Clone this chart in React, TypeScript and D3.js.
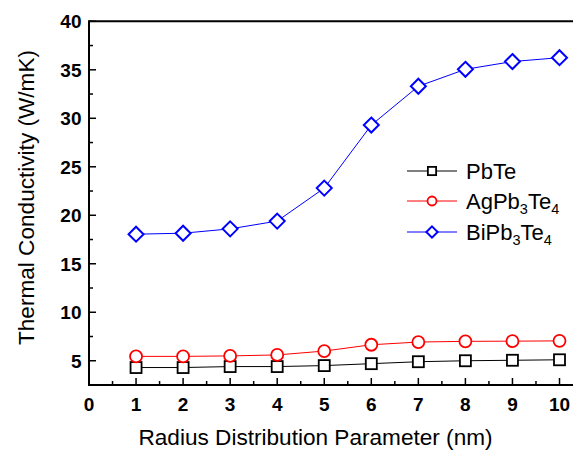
import React from "react";
import * as d3 from "d3";

const xs = [1, 2, 3, 4, 5, 6, 7, 8, 9, 10];
const pbte = [4.3, 4.3, 4.4, 4.4, 4.5, 4.7, 4.9, 5.0, 5.05, 5.1];
const agpb = [5.45, 5.45, 5.5, 5.6, 6.0, 6.65, 6.93, 7.0, 7.02, 7.05];
const bipb = [18.05, 18.15, 18.6, 19.4, 22.8, 29.3, 33.3, 35.05, 35.85, 36.25];
const xTicks = [0, 1, 2, 3, 4, 5, 6, 7, 8, 9, 10];
const yTicks = [5, 10, 15, 20, 25, 30, 35, 40];

const W = 573, H = 450;
const x = d3.scaleLinear().domain([0, 10]).range([89, 559.5]);
const y = d3.scaleLinear().domain([2.5, 40]).range([385, 21.3]);
const font = "Arial, 'Liberation Sans', sans-serif";

const line = d3.line<number>().x((_, i) => x(xs[i])).y((d) => y(d));

type MP = { cx: number; cy: number; k?: number };
function Square({ cx, cy, k = 1 }: MP) {
  const h = 5.5 * k;
  return <rect x={cx - h} y={cy - h} width={2 * h} height={2 * h} fill="white" stroke="#000" strokeWidth={1.8} />;
}
function Circle({ cx, cy, k = 1 }: MP) {
  return <circle cx={cx} cy={cy} r={6 * k} fill="white" stroke="#ff0000" strokeWidth={1.8} />;
}
function Diamond({ cx, cy, k = 1 }: MP) {
  const s = 7.5 * k;
  return <path d={`M${cx},${cy - s}L${cx + s},${cy}L${cx},${cy + s}L${cx - s},${cy}Z`} fill="white" stroke="#0000ff" strokeWidth={2} />;
}

const series = [
  { name: "PbTe", sub: null as null | string[], data: pbte, color: "#000", M: Square },
  { name: "AgPb", sub: ["3", "Te", "4"], data: agpb, color: "#ff0000", M: Circle },
  { name: "BiPb", sub: ["3", "Te", "4"], data: bipb, color: "#0000ff", M: Diamond },
];

export default function App() {
  const minorX = d3.range(0.5, 10.6, 1);
  const minorY = d3.range(2.5, 40, 5);
  const legY = [171, 201, 232];
  const lf = 22;
  return (
    <svg width={W} height={H} style={{ position: "absolute", left: 0, top: 0, background: "white" }} fontFamily={font}>
      {/* axes */}
      <line x1={89} y1={21.3} x2={W} y2={21.3} stroke="#000" strokeWidth={2} />
      <line x1={89} y1={20.3} x2={89} y2={386} stroke="#000" strokeWidth={2} />
      <line x1={88} y1={385} x2={W} y2={385} stroke="#000" strokeWidth={2} />
      {xTicks.map((t) => (
        <g key={"xt" + t}>
          <line x1={x(t)} x2={x(t)} y1={385} y2={378} stroke="#000" strokeWidth={1.5} />
          <text x={x(t)} y={410.5} textAnchor="middle" fontSize={19} fontWeight="bold">{t}</text>
        </g>
      ))}
      {minorX.map((t) => (
        <line key={"xm" + t} x1={x(t)} x2={x(t)} y1={385} y2={381} stroke="#000" strokeWidth={1.5} />
      ))}
      {yTicks.map((t) => (
        <g key={"yt" + t}>
          <line x1={89} x2={96} y1={y(t)} y2={y(t)} stroke="#000" strokeWidth={1.5} />
          <text x={81.5} y={y(t) + 6.8} textAnchor="end" fontSize={19} fontWeight="bold">{t}</text>
        </g>
      ))}
      {minorY.map((t) => (
        <line key={"ym" + t} x1={89} x2={93} y1={y(t)} y2={y(t)} stroke="#000" strokeWidth={1.5} />
      ))}
      <text x={315.5} y={445} textAnchor="middle" fontSize={22.6}>Radius Distribution Parameter (nm)</text>
      <text transform={`translate(33.5,197.5) rotate(-90)`} textAnchor="middle" fontSize={22.6}>Thermal Conductivity (W/mK)</text>

      {series.map((s) => (
        <g key={s.name}>
          <path d={line(s.data) || ""} fill="none" stroke={s.color} strokeWidth={1} />
          {s.data.map((v, i) => (
            <s.M key={i} cx={x(xs[i])} cy={y(v)} />
          ))}
        </g>
      ))}

      {series.map((s, i) => (
        <g key={"leg" + s.name}>
          <line x1={407} x2={457} y1={legY[i]} y2={legY[i]} stroke={s.color} strokeWidth={1} />
          <s.M cx={432} cy={legY[i]} k={0.75} />
          <text x={466} y={legY[i] + 7.8} fontSize={lf}>
            {s.name}
            {s.sub && (
              <>
                <tspan fontSize={14.5} dy={5}>{s.sub[0]}</tspan>
                <tspan fontSize={lf} dy={-5}>{s.sub[1]}</tspan>
                <tspan fontSize={14.5} dy={5}>{s.sub[2]}</tspan>
              </>
            )}
          </text>
        </g>
      ))}
    </svg>
  );
}
